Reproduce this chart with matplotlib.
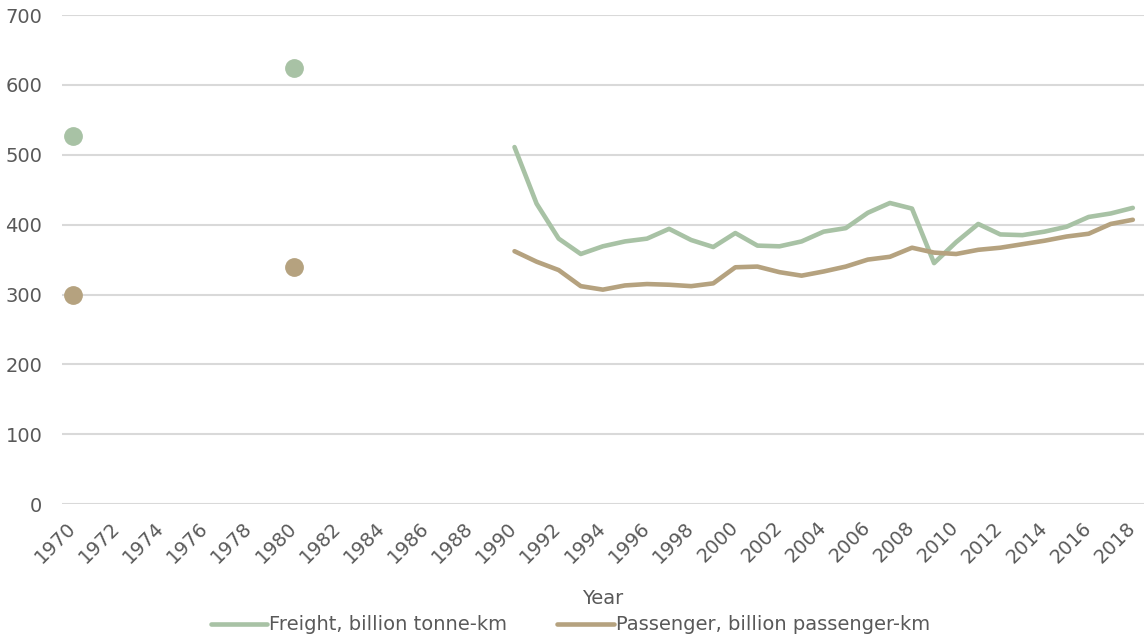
import numpy as np
import matplotlib.pyplot as plt
from matplotlib.transforms import ScaledTranslation

# isolated observations before the annual series starts
early_years = [1970, 1980]
freight_early = [527, 624]
passenger_early = [300, 340]

# annual series 1990-2018
years = list(range(1990, 2019))
freight = [511, 430, 380, 358, 369, 376, 380, 394, 378, 368, 388, 370, 369, 376,
           390, 395, 417, 431, 423, 345, 375, 401, 386, 385, 390, 397, 411, 416, 424]
passenger = [362, 347, 335, 312, 307, 313, 315, 314, 312, 316, 339, 340, 332, 327,
             333, 340, 350, 354, 367, 360, 358, 364, 367, 372, 377, 383, 387, 401, 407]

green = '#a8c2a5'
brown = '#b5a27f'
text_col = '#595959'

plt.rcParams['font.family'] = ['DejaVu Sans']

fig = plt.figure(figsize=(11.45, 6.39), dpi=100)
ax = fig.add_axes([0.054, 0.211, 0.945, 0.7655])

ax.plot(years, freight, color=green, lw=3.3, solid_capstyle='round',
        label='Freight, billion tonne-km')
ax.plot(years, passenger, color=brown, lw=3.3, solid_capstyle='round',
        label='Passenger, billion passenger-km')
ax.plot(early_years, freight_early, 'o', color=green, ms=12.5)
ax.plot(early_years, passenger_early, 'o', color=brown, ms=12.5)

ax.set_xlim(1969.5, 2018.5)
ax.set_ylim(0, 700)
ax.set_yticks(range(0, 701, 100))
ax.set_xticks(range(1970, 2019, 2))
ax.set_xticklabels([str(y) for y in range(1970, 2019, 2)], rotation=45,
                   ha='right', va='top', rotation_mode='anchor')
ax.tick_params(length=0, labelsize=14, labelcolor=text_col)
ax.tick_params(axis='y', pad=14)
ax.tick_params(axis='x', pad=10)
# nudge the rotated year labels so their ends sit under the ticks
shift = ScaledTranslation(-7 / 100, 0, fig.dpi_scale_trans)
for lbl in ax.get_xticklabels():
    lbl.set_transform(lbl.get_transform() + shift)
ax.grid(axis='y', color='#d9d9d9', lw=1.5)
ax.set_axisbelow(True)
for s in ax.spines.values():
    s.set_visible(False)

ax.set_xlabel('Year', fontsize=14, color=text_col, labelpad=16)

fig.legend(loc='center', bbox_to_anchor=(0.498, 0.022), ncol=2, frameon=False,
           fontsize=14, labelcolor=text_col, handlelength=2.9, handletextpad=0.1,
           columnspacing=2.6)

fig.savefig('out.png', dpi=100)
